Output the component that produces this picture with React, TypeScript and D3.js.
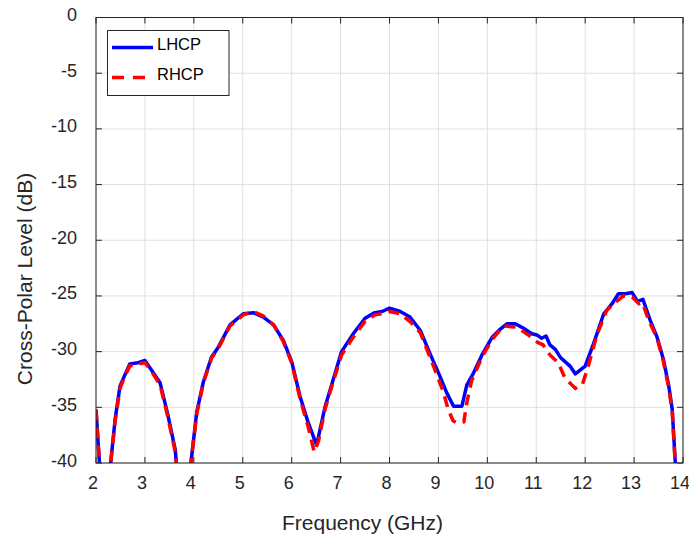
// App.tsx — cross-polar level vs frequency, LHCP / RHCP, drawn with D3.
import { useEffect, useRef } from "react";
import * as d3 from "d3";

const lhcpFreq = [
  2.0, 2.1, 2.27, 2.3, 2.39, 2.49, 2.6, 2.69, 2.86, 3.0, 3.14, 3.31, 3.46, 3.62, 3.68,
  3.9, 3.94, 4.06, 4.19, 4.36, 4.5, 4.74, 5.01, 5.22, 5.42, 5.63, 5.83, 6.0, 6.17, 6.34, 6.51,
  6.68, 6.85, 7.02, 7.26, 7.5, 7.7, 7.85, 8.0, 8.22, 8.42, 8.63, 8.83, 9.03, 9.17, 9.31, 9.48,
  9.58, 9.72, 9.89, 10.1, 10.26, 10.4, 10.57, 10.74, 10.91, 11.01, 11.11, 11.2, 11.28, 11.39,
  11.49, 11.69, 11.8, 12.0, 12.17, 12.38, 12.55, 12.68, 12.82, 12.96, 13.07, 13.18, 13.33,
  13.47, 13.6, 13.71, 13.78, 13.84, 13.87,
];
const lhcpLevel = [
  -35.2, -42, -42, -40, -36.1, -33.1, -32.0, -31.1, -31.0, -30.8, -31.7, -32.8, -35.5, -38.8, -42,
  -42, -40, -35.4, -32.8, -30.5, -29.6, -27.6, -26.6, -26.5, -26.9, -27.6, -29.0, -30.9, -34.0, -36.4, -38.4,
  -35.0, -32.5, -30.0, -28.4, -27.0, -26.5, -26.4, -26.1, -26.4, -26.9, -28.1, -30.2, -32.2, -33.7, -34.9, -34.9,
  -33.0, -31.9, -30.3, -28.7, -28.0, -27.5, -27.5, -27.9, -28.4, -28.5, -28.8, -28.6, -29.4, -29.8,
  -30.5, -31.3, -32.0, -31.3, -29.3, -26.6, -25.7, -24.8, -24.8, -24.7, -25.5, -25.3, -27.2,
  -28.7, -30.7, -33.1, -35.2, -39.8, -42,
];

const rhcpFreq = [
  2.0, 2.1, 2.27, 2.3, 2.39, 2.49, 2.6, 2.69, 2.86, 3.0, 3.14, 3.31, 3.46, 3.62, 3.68,
  3.9, 3.94, 4.06, 4.19, 4.36, 4.5, 4.74, 5.01, 5.22, 5.42, 5.63, 5.83, 6.0, 6.17, 6.34, 6.46, 6.55,
  6.68, 6.85, 7.02, 7.26, 7.5, 7.7, 7.85, 8.0, 8.22, 8.42, 8.63, 8.9, 9.1, 9.2, 9.3, 9.38, 9.52,
  9.58, 9.68, 9.89, 10.1, 10.33, 10.6, 10.84, 11.04, 11.14, 11.28, 11.45, 11.59, 11.8, 11.94,
  12.07, 12.24, 12.44, 12.61, 12.78, 12.96, 13.1, 13.17, 13.3, 13.47, 13.6, 13.71, 13.78, 13.84, 13.87,
];
const rhcpLevel = [
  -35.2, -42, -42, -40, -36.3, -33.3, -32.1, -31.3, -31.1, -31.0, -31.8, -33.0, -35.7, -39.0, -42,
  -42, -40, -35.6, -32.9, -30.6, -29.7, -27.7, -26.7, -26.4, -26.8, -27.6, -29.1, -31.0, -34.2, -36.8, -39.0, -38.0,
  -35.2, -32.7, -30.3, -28.7, -27.3, -26.7, -26.6, -26.4, -26.6, -27.3, -28.3, -31.3, -33.6, -35.2, -36.2, -36.4, -36.3,
  -34.6, -32.6, -30.5, -28.9, -27.7, -27.8, -28.5, -29.2, -29.4, -30.3, -31.0, -32.4, -33.3, -33.0,
  -31.2, -28.5, -26.3, -25.6, -25.0, -25.1, -25.7, -25.6, -27.2, -28.8, -30.9, -33.3, -35.4, -40, -42,
];

const xTicks = [2, 3, 4, 5, 6, 7, 8, 9, 10, 11, 12, 13, 14];
const yTicks = [0, -5, -10, -15, -20, -25, -30, -35, -40];

export default function App() {
  const ref = useRef<SVGSVGElement>(null);

  useEffect(() => {
    const svg = d3.select(ref.current);
    svg.selectAll("*").remove();

    const left = 96, right = 683, top = 17.5, bottom = 463;
    const font = "'Liberation Sans', Arial, Helvetica, sans-serif";
    const axisColor = "#262626";

    const x = d3.scaleLinear().domain([2, 14]).range([left, right]);
    const y = d3.scaleLinear().domain([-40, 0]).range([bottom, top]);

    svg.append("rect").attr("width", 689).attr("height", 537).attr("fill", "#fff");

    // grid
    const grid = svg.append("g").attr("stroke", "#e0e0e0").attr("stroke-width", 1);
    xTicks.forEach((t) => grid.append("line").attr("x1", x(t)).attr("x2", x(t)).attr("y1", top).attr("y2", bottom));
    yTicks.forEach((t) => grid.append("line").attr("x1", left).attr("x2", right).attr("y1", y(t)).attr("y2", y(t)));

    svg.append("defs").append("clipPath").attr("id", "plot-clip")
      .append("rect").attr("x", left).attr("y", top).attr("width", right - left).attr("height", bottom - top);

    const line = d3.line<[number, number]>().x((d) => x(d[0])).y((d) => y(d[1]));
    const plot = svg.append("g").attr("clip-path", "url(#plot-clip)");

    plot.append("path").datum(lhcpFreq.map((f, i) => [f, lhcpLevel[i]] as [number, number]))
      .attr("fill", "none").attr("stroke", "#0000ff").attr("stroke-width", 3.5)
      .attr("stroke-linejoin", "round").attr("d", line);
    plot.append("path").datum(rhcpFreq.map((f, i) => [f, rhcpLevel[i]] as [number, number]))
      .attr("fill", "none").attr("stroke", "#ff0000").attr("stroke-width", 3.5)
      .attr("stroke-dasharray", "11,7").attr("d", line);

    // axes box with inward ticks
    const ax = svg.append("g").attr("stroke", axisColor).attr("stroke-width", 1);
    ax.append("rect").attr("x", left).attr("y", top).attr("width", right - left).attr("height", bottom - top).attr("fill", "none");
    xTicks.forEach((t) => {
      ax.append("line").attr("x1", x(t)).attr("x2", x(t)).attr("y1", bottom).attr("y2", bottom - 6);
      ax.append("line").attr("x1", x(t)).attr("x2", x(t)).attr("y1", top).attr("y2", top + 6);
    });
    yTicks.forEach((t) => {
      ax.append("line").attr("x1", left).attr("x2", left + 6).attr("y1", y(t)).attr("y2", y(t));
      ax.append("line").attr("x1", right).attr("x2", right - 6).attr("y1", y(t)).attr("y2", y(t));
    });

    const labels = svg.append("g").attr("font-family", font).attr("font-size", 18).attr("fill", axisColor);
    xTicks.forEach((t) => labels.append("text").attr("x", x(t) - 3).attr("y", bottom + 26)
      .attr("text-anchor", "middle").text(String(t)));
    yTicks.forEach((t) => labels.append("text").attr("x", left - 19).attr("y", y(t) + 3.5)
      .attr("text-anchor", "end").text(String(t)));

    labels.append("text").attr("x", 362.5).attr("y", 530).attr("font-size", 21)
      .attr("text-anchor", "middle").text("Frequency (GHz)");
    labels.append("text").attr("transform", "translate(31.5,279) rotate(-90)")
      .attr("font-size", 21).attr("text-anchor", "middle").text("Cross-Polar Level (dB)");

    // legend
    const lg = svg.append("g");
    lg.append("rect").attr("x", 107.5).attr("y", 30.5).attr("width", 121.5).attr("height", 65)
      .attr("fill", "#fff").attr("stroke", axisColor).attr("stroke-width", 1);
    lg.append("line").attr("x1", 112).attr("x2", 153).attr("y1", 47.5).attr("y2", 47.5)
      .attr("stroke", "#0000ff").attr("stroke-width", 3.5);
    lg.append("line").attr("x1", 112).attr("x2", 153).attr("y1", 77.5).attr("y2", 77.5)
      .attr("stroke", "#ff0000").attr("stroke-width", 3.5).attr("stroke-dasharray", "12,9");
    lg.append("text").attr("x", 157).attr("y", 49.5).attr("font-family", font).attr("font-size", 16.5)
      .attr("fill", "#000").text("LHCP");
    lg.append("text").attr("x", 157).attr("y", 79.5).attr("font-family", font).attr("font-size", 16.5)
      .attr("fill", "#000").text("RHCP");
  }, []);

  return (
    <div style={{ position: "absolute", left: 0, top: 0 }}>
      <svg ref={ref} width={689} height={537} style={{ display: "block" }} />
    </div>
  );
}
